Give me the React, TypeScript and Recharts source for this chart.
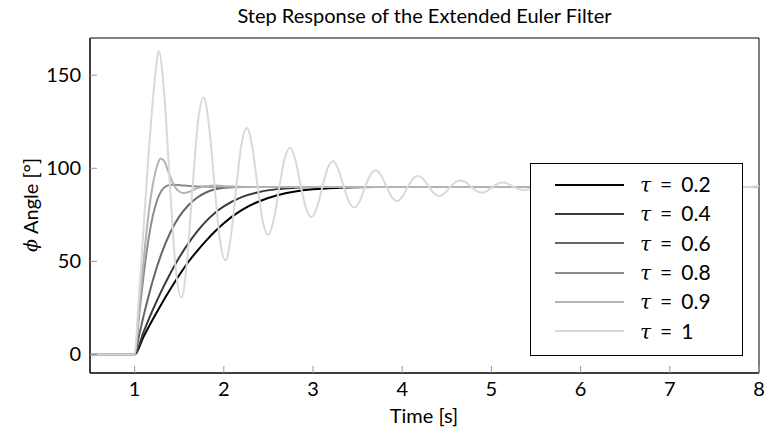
import { LineChart, Line, XAxis, YAxis, Legend, ReferenceArea } from "recharts";

const xTicks = [1, 2, 3, 4, 5, 6, 7, 8];
const yTicks = [0, 50, 100, 150];
const tauLabels = ["0.2", "0.4", "0.6", "0.8", "0.9", "1"];
const tauColors = ["#000000", "#3a3a3a", "#666666", "#8c8c8c", "#b3b3b3", "#d9d9d9"];

// tau = 0.2
const tau02Time = [0.5, 1, 1.1, 1.2, 1.3, 1.4, 1.5, 1.6, 1.7, 1.8, 1.9, 2.0, 2.2, 2.4, 2.6, 2.8, 3.0, 3.3, 3.7, 4.2, 8];
const tau02Angle = [0, 0, 9.5, 18.5, 27, 35, 42.5, 49.5, 55.5, 61, 66, 70.5, 77.5, 82.3, 85.5, 87.5, 88.7, 89.5, 89.9, 90, 90];

// tau = 0.4
const tau04Time = [0.5, 1, 1.1, 1.2, 1.3, 1.4, 1.5, 1.6, 1.7, 1.8, 1.9, 2.0, 2.2, 2.4, 2.6, 2.8, 3.1, 3.5, 8];
const tau04Angle = [0, 0, 12, 23.5, 34, 43.5, 52, 59.5, 66, 71.5, 76, 79.5, 84.5, 87.3, 88.8, 89.5, 89.9, 90, 90];

// tau = 0.6
const tau06Time = [0.5, 1, 1.05, 1.1, 1.15, 1.2, 1.3, 1.4, 1.5, 1.6, 1.7, 1.8, 1.9, 2.0, 2.2, 8];
const tau06Angle = [0, 0, 10, 20.5, 30, 39, 54, 65.5, 74, 80, 84.2, 87, 88.7, 89.5, 90, 90];

// tau = 0.8
const tau08Time = [0.5, 1, 1.05, 1.1, 1.15, 1.2, 1.25, 1.3, 1.35, 1.4, 1.45, 1.55, 1.7, 2.0, 8];
const tau08Angle = [0, 0, 21, 42, 60, 73.5, 82.5, 87.8, 90.3, 91, 91.1, 90.7, 90.2, 90, 90];

// tau = 0.9
const tau09Time = [0.5, 1, 1.05, 1.1, 1.15, 1.2, 1.25, 1.29, 1.33, 1.38, 1.44, 1.5, 1.55, 1.62, 1.7, 1.8, 1.9, 2.05, 2.3, 8];
const tau09Angle = [0, 0, 24, 50, 73, 90, 101, 105.3, 104, 98, 91, 87.5, 86.7, 87.5, 89.2, 90.4, 90.7, 90.3, 90, 90];

// tau = 1
const tau1Time = [
  0.5, 1, 1.04, 1.08, 1.12, 1.16, 1.2, 1.235, 1.27,
  1.334, 1.3975, 1.461, 1.525, 1.5875, 1.65, 1.7125, 1.775,
  1.836, 1.8975, 1.959, 2.02, 2.08, 2.14, 2.2, 2.26,
  2.32, 2.38, 2.44, 2.5, 2.561, 2.6225, 2.684, 2.745,
  2.805, 2.865, 2.925, 2.985, 3.045, 3.105, 3.165, 3.225,
  3.285, 3.345, 3.405, 3.465, 3.525, 3.585, 3.645, 3.705,
  3.765, 3.825, 3.885, 3.945, 4.004, 4.0625, 4.121, 4.18,
  4.24, 4.3, 4.36, 4.42, 4.479, 4.5375, 4.596, 4.655,
  4.715, 4.775, 4.835, 4.895, 4.954, 5.0125, 5.071, 5.13,
  5.19, 5.25, 5.31, 5.37, 5.43, 5.49, 5.55, 5.61,
  5.73, 5.85, 5.97, 6.09, 6.21, 6.33, 6.45, 6.57, 6.69, 6.81,
  6.93, 7.05, 7.17, 7.29, 7.41, 7.53, 7.65, 7.77, 7.89, 8,
];
const tau1Angle = [
  0, 0, 25, 53, 82, 110, 134, 152, 163,
  139.1, 90, 45.9, 30.5, 50, 90, 125.6, 138,
  122.3, 90, 60.7, 50.5, 63.5, 90, 113.5, 121.7,
  111.3, 90, 70.9, 64.3, 72.7, 90, 105.6, 111,
  104.1, 90, 78, 73.8, 79.1, 90, 100.2, 103.8,
  99.3, 90, 81.8, 78.9, 82.5, 90, 96.6, 98.9,
  96, 90, 84.4, 82.4, 84.9, 90, 94.4, 95.9,
  94, 90, 86.4, 85.1, 86.7, 90, 92.6, 93.5,
  92.4, 90, 87.7, 86.9, 87.9, 90, 91.7, 92.3,
  91.5, 90, 88.7, 88.2, 88.8, 90, 91, 91.4,
  90, 88.9, 90, 90.8, 90, 89.4, 90, 90.45, 90, 89.65,
  90, 90.25, 90, 89.8, 90, 90.15, 90, 89.9, 90, 90.3,
];

const pair = (time: number[], angle: number[]) => time.map((t, i) => ({ t, angle: angle[i] }));

const series = [
  pair(tau02Time, tau02Angle),
  pair(tau04Time, tau04Angle),
  pair(tau06Time, tau06Angle),
  pair(tau08Time, tau08Angle),
  pair(tau09Time, tau09Angle),
  pair(tau1Time, tau1Angle),
];

const FONT = "Lato, 'Open Sans', sans-serif";

const renderLegend = () => (
  <div
    style={{
      width: 213,
      height: 193,
      boxSizing: "border-box",
      border: "1px solid #000",
      background: "#fff",
      paddingTop: 6,
      fontFamily: FONT,
      fontSize: 21,
      color: "#000",
    }}
  >
    {tauLabels.map((lab, i) => (
      <div key={lab} style={{ display: "flex", alignItems: "center", height: 29.3 }}>
        <svg width={94} height={4} style={{ display: "block" }}>
          <line x1={24} x2={93} y1={2} y2={2} stroke={tauColors[i]} strokeWidth={2} />
        </svg>
        <span style={{ marginLeft: 15, whiteSpace: "nowrap", lineHeight: "22px" }}>
          <span style={{ fontStyle: "italic", fontFamily: "'DejaVu Serif', serif", fontSize: 20 }}>τ</span>
          <span style={{ margin: "0 9px" }}>=</span>
          {lab}
        </span>
      </div>
    ))}
  </div>
);

const YLabel = () => {
  const cx = 30;
  const cy = 205;
  return (
    <text
      x={cx}
      y={cy}
      transform={`rotate(-90 ${cx} ${cy})`}
      textAnchor="middle"
      dominantBaseline="central"
      fontSize={20}
      fontFamily={FONT}
      fill="#000"
    >
      <tspan fontStyle="italic" fontFamily="'DejaVu Serif', serif" fontSize={19}>ϕ</tspan>
      <tspan> Angle [°]</tspan>
    </text>
  );
};

const XLabel = () => (
  <text x={424} y={423} textAnchor="middle" fontSize={20} fontFamily={FONT} fill="#000">
    Time [s]
  </text>
);

export default function App() {
  return (
    <div style={{ position: "absolute", left: 0, top: 0, width: 766, height: 434, background: "#fff" }}>
      <div
        style={{
          position: "absolute",
          left: 90,
          width: 669,
          top: 3,
          textAlign: "center",
          fontFamily: FONT,
          fontSize: 20,
          color: "#000",
        }}
      >
        Step Response of the Extended Euler Filter
      </div>
      <LineChart width={766} height={434} margin={{ top: 38, right: 7, bottom: 21, left: 0 }}>
        <XAxis
          dataKey="t"
          type="number"
          domain={[0.5, 8]}
          ticks={xTicks}
          allowDataOverflow
          height={40}
          axisLine={{ stroke: "#000" }}
          tickLine={{ stroke: "#999" }}
          tickSize={-7}
          tickMargin={16}
          tick={{ fill: "#000", fontSize: 20, fontFamily: FONT }}
          label={<XLabel />}
        />
        <YAxis
          type="number"
          domain={[-10, 170]}
          ticks={yTicks}
          allowDataOverflow
          width={90}
          axisLine={{ stroke: "#000" }}
          tickLine={{ stroke: "#999" }}
          tickSize={-7}
          tickMargin={16}
          tick={{ fill: "#000", fontSize: 20, fontFamily: FONT }}
          label={<YLabel />}
        />
        <ReferenceArea x1={0.5} x2={8} y1={-10} y2={170} fill="none" stroke="#000" strokeWidth={1} ifOverflow="visible" />
        {series.map((d, i) => (
          <Line
            key={tauLabels[i]}
            data={d}
            dataKey="angle"
            type="monotone"
            stroke={tauColors[i]}
            strokeWidth={2}
            dot={false}
            activeDot={false}
            isAnimationActive={false}
          />
        ))}
        <Legend
          content={renderLegend}
          layout="horizontal"
          verticalAlign="middle"
          align="center"
          wrapperStyle={{ left: 530, top: 163, width: 213, height: 193 }}
        />
      </LineChart>
    </div>
  );
}
